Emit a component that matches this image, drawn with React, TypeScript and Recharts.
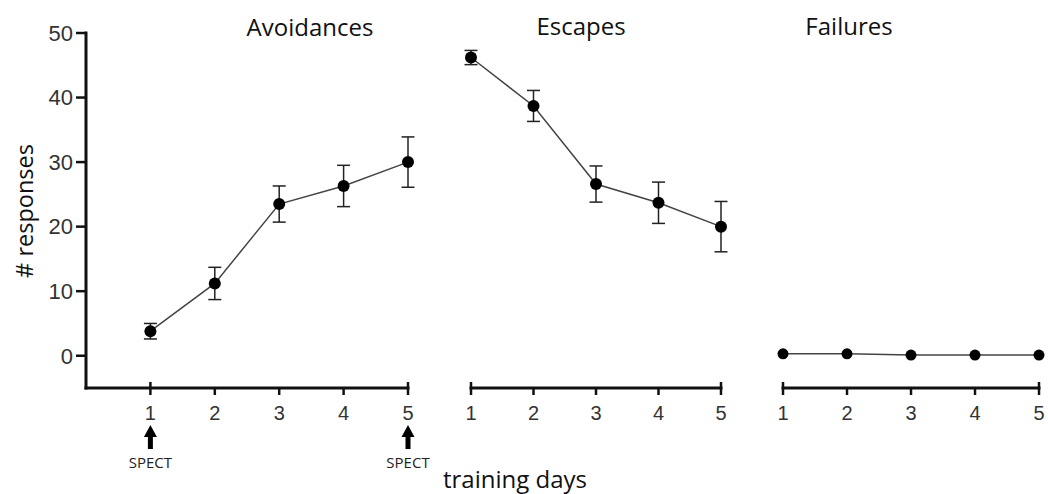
import { LineChart, Line, XAxis, YAxis, ErrorBar } from 'recharts';

const days = [1, 2, 3, 4, 5];
const avoidMean = [3.8, 11.2, 23.5, 26.3, 30.0];
const avoidErr = [1.2, 2.5, 2.8, 3.2, 3.9];
const escapeMean = [46.2, 38.7, 26.6, 23.7, 20.0];
const escapeErr = [1.1, 2.4, 2.8, 3.2, 3.9];
const failMean = [0.3, 0.3, 0.1, 0.1, 0.1];
const yTicks = [0, 10, 20, 30, 40, 50];
const spectDays = [1, 5];

const AXIS_Y = 388;
const TICK_FONT = '"Liberation Sans", Arial, sans-serif';
const LABEL_FONT = '"Open Sans", "Noto Sans", sans-serif';

function toRows(mean: number[], err?: number[]) {
  return days.map((d, i) => ({ day: d, v: mean[i], e: err ? err[i] : 0 }));
}

function makeXTick(withSpect: boolean) {
  return (props: any) => {
    const { x, payload, index, visibleTicksCount } = props;
    const isEnd = index === 0 || index === visibleTicksCount - 1;
    const showSpect = withSpect && spectDays.includes(payload.value);
    return (
      <g>
        <line x1={x} x2={x} y1={AXIS_Y - (isEnd ? 6 : 0)} y2={AXIS_Y + 7} stroke="#111" strokeWidth={2.5} />
        <text x={x} y={AXIS_Y + 32} textAnchor="middle" fontSize={20} fill="#333" fontFamily={TICK_FONT}>
          {payload.value}
        </text>
        {showSpect && (
          <g>
            <polygon
              points={`${x},${425} ${x + 6.5},${437} ${x + 2.5},${437} ${x + 2.5},${449} ${x - 2.5},${449} ${x - 2.5},${437} ${x - 6.5},${437}`}
              fill="#000"
            />
            <text x={x} y={467.5} textAnchor="middle" fontSize={15} fill="#222" fontFamily={LABEL_FONT}>
              SPECT
            </text>
          </g>
        )}
      </g>
    );
  };
}

interface PanelProps {
  rows: { day: number; v: number; e: number }[];
  left: number;
  width: number;
  height: number;
  margin: { top: number; right: number; left: number; bottom: number };
  xDomain: [number, number];
  showY?: boolean;
  withErr?: boolean;
  withSpect?: boolean;
  dotR: number;
}

function Panel({ rows, left, width, height, margin, xDomain, showY, withErr, withSpect, dotR }: PanelProps) {
  return (
    <div style={{ position: 'absolute', left, top: 0 }}>
      <LineChart width={width} height={height} data={rows} margin={margin}>
        <XAxis
          dataKey="day"
          type="number"
          domain={xDomain}
          ticks={days}
          height={42}
          axisLine={{ stroke: '#111', strokeWidth: 3, strokeLinecap: 'square' }}
          tickLine={false}
          tick={makeXTick(!!withSpect)}
          interval={0}
        />
        <YAxis
          type="number"
          domain={[-5, 50]}
          ticks={yTicks}
          hide={!showY}
          width={86}
          tickSize={10}
          tickMargin={3}
          axisLine={{ stroke: '#111', strokeWidth: 3, strokeLinecap: 'square' }}
          tickLine={{ stroke: '#111', strokeWidth: 2.5 }}
          tick={{ fontSize: 22, fill: '#333', fontFamily: TICK_FONT }}
          interval={0}
        />
        <Line
          dataKey="v"
          type="linear"
          stroke="#444"
          strokeWidth={1.5}
          dot={{ r: dotR, fill: '#000', stroke: '#000', strokeWidth: 0 }}
          activeDot={false}
          isAnimationActive={false}
        >
          {withErr && <ErrorBar dataKey="e" width={6.5} stroke="#222" strokeWidth={1.5} direction="y" />}
        </Line>
      </LineChart>
    </div>
  );
}

export default function App() {
  return (
    <div style={{ position: 'absolute', left: 0, top: 0, width: 1048, height: 494, background: '#fff', overflow: 'hidden' }}>
      <Panel
        rows={toRows(avoidMean, avoidErr)}
        left={0}
        width={440}
        height={494}
        margin={{ top: 33, right: 32, left: 0, bottom: 64 }}
        xDomain={[0, 5]}
        showY
        withErr
        withSpect
        dotR={6}
      />
      <Panel
        rows={toRows(escapeMean, escapeErr)}
        left={440}
        width={300}
        height={430}
        margin={{ top: 33, right: 19, left: 31, bottom: 0 }}
        xDomain={[1, 5]}
        withErr
        dotR={6}
      />
      <Panel
        rows={toRows(failMean)}
        left={760}
        width={288}
        height={430}
        margin={{ top: 33, right: 9, left: 23, bottom: 0 }}
        xDomain={[1, 5]}
        dotR={5.5}
      />
      <svg width={1048} height={494} style={{ position: 'absolute', left: 0, top: 0, pointerEvents: 'none' }}>
        <g fontFamily={LABEL_FONT} fontSize={24} fill="#111" textAnchor="middle">
          <text x={310} y={35.5}>Avoidances</text>
          <text x={581} y={34.5}>Escapes</text>
          <text x={849} y={35}>Failures</text>
          <text x={515} y={488}>training days</text>
          <text x={0} y={0} fontSize={23.5} transform="translate(33,211) rotate(-90)">
            # responses
          </text>
        </g>
      </svg>
    </div>
  );
}
